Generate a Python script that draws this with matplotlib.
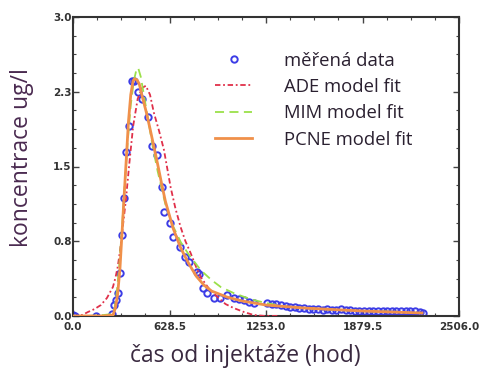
import matplotlib
matplotlib.use("Agg")
import matplotlib.pyplot as plt
from matplotlib.ticker import FixedLocator, MultipleLocator

# measured data
meas_x = [0, 13, 150, 255, 267, 278, 290, 305, 317, 332, 343, 361, 382, 397, 425, 451,
          490, 516, 544, 576, 591, 630, 652, 695, 727, 753, 808, 820, 842, 873, 915,
          956, 1001, 1043, 1075, 1109, 1140, 1173, 1262, 1290, 1320, 1350, 1380, 1410,
          1440, 1470, 1500, 1530, 1560, 1590, 1620, 1650, 1680, 1710, 1740, 1770,
          1800, 1830, 1860, 1890, 1920, 1950, 1980, 2010, 2040, 2070, 2100, 2130,
          2160, 2190, 2220, 2250, 2274]
meas_y = [0.01, 0.0, 0.0, 0.02, 0.11, 0.16, 0.23, 0.43, 0.81, 1.18, 1.65, 1.91, 2.36, 2.36,
          2.25, 2.18, 2.0, 1.71, 1.62, 1.29, 1.04, 0.93, 0.79, 0.69, 0.59, 0.54, 0.44,
          0.42, 0.28, 0.23, 0.18, 0.18, 0.21, 0.18, 0.17, 0.16, 0.14, 0.13, 0.13, 0.12,
          0.12, 0.11, 0.10, 0.09, 0.09, 0.08, 0.08, 0.07, 0.07, 0.07, 0.06, 0.07, 0.06,
          0.06, 0.07, 0.06, 0.06, 0.05, 0.05, 0.05, 0.05, 0.05, 0.05, 0.05, 0.05, 0.05,
          0.05, 0.05, 0.05, 0.05, 0.05, 0.04, 0.03]

# ADE model fit
ade_x = [0, 20, 60, 97, 140, 181, 220, 259, 275, 290, 305, 320, 343, 365, 390, 420, 450,
         473, 500, 525, 560, 590, 634, 665, 699, 730, 764, 800, 829, 880, 939, 990, 1043,
         1110, 1173, 1250, 1330]
ade_y = [0.0, 0.0, 0.01, 0.04, 0.07, 0.11, 0.18, 0.29, 0.38, 0.49, 0.65, 0.85, 1.16,
         1.52, 1.9, 2.18, 2.29, 2.31, 2.22, 2.04, 1.85, 1.67, 1.29, 1.08, 0.89, 0.75,
         0.63, 0.49, 0.39, 0.28, 0.19, 0.12, 0.08, 0.04, 0.01, 0.0, 0.0]

# MIM model fit
mim_x = [0, 100, 200, 255, 270, 285, 300, 317, 335, 355, 375, 395, 410, 423, 440, 460,
         490, 520, 550, 600, 650, 700, 750, 800, 829, 900, 960, 1043, 1150, 1253, 1400,
         1600, 1879, 2124]
mim_y = [0.0, 0.0, 0.01, 0.02, 0.08, 0.25, 0.5, 0.85, 1.3, 1.75, 2.12, 2.36, 2.46, 2.49,
         2.4, 2.22, 1.95, 1.68, 1.45, 1.12, 0.9, 0.74, 0.62, 0.52, 0.46, 0.36, 0.29, 0.23,
         0.17, 0.13, 0.09, 0.07, 0.05, 0.04]

# PCNE model fit
pcne_x = [0, 200, 260, 275, 290, 305, 317, 330, 345, 360, 375, 390, 400, 415, 430, 450,
          475, 500, 525, 550, 575, 600, 650, 700, 750, 800, 850, 900, 1000, 1100, 1253,
          1500, 1879, 2266]
pcne_y = [0.0, 0.0, 0.01, 0.08, 0.22, 0.48, 0.8, 1.15, 1.55, 1.95, 2.22, 2.36, 2.38, 2.37,
          2.33, 2.2, 2.05, 1.88, 1.7, 1.52, 1.33, 1.15, 0.88, 0.68, 0.53, 0.4, 0.31, 0.25,
          0.19, 0.15, 0.11, 0.08, 0.05, 0.03]

xticks = [0.0, 626.5, 1253.0, 1879.5, 2506.0]
xtick_labels = ["0.0", "628.5", "1253.0", "1879.5", "2506.0"]
yticks = [0.0, 0.75, 1.5, 2.25, 3.0]
ytick_labels = ["0.0", "0.8", "1.5", "2.3", "3.0"]

fig = plt.figure(figsize=(4.81, 3.69), dpi=100)
ax = fig.add_axes([73 / 481, 1 - 316 / 369, (459 - 73) / 481, (316 - 17) / 369])

ax.plot(meas_x, meas_y, linestyle="none", marker="o", markersize=4.6,
        markerfacecolor="none", markeredgecolor="#3c3ce6", markeredgewidth=1.4,
        label="měřená data", zorder=2)
ax.plot(ade_x, ade_y, color="#e0304a", linestyle=(0, (3, 1.5, 1, 1.5)), lw=1.3,
        label="ADE model fit", zorder=3)
ax.plot(mim_x, mim_y, color="#9be04a", linestyle=(0, (5, 3)), lw=1.3,
        label="MIM model fit", zorder=4)
ax.plot(pcne_x, pcne_y, color="#f0904a", linestyle="-", lw=2.0,
        label="PCNE model fit", zorder=5)

ax.set_xlim(0, 2506)
ax.set_ylim(0, 3.0)
ax.xaxis.set_major_locator(FixedLocator(xticks))
ax.set_xticklabels(xtick_labels)
ax.yaxis.set_major_locator(FixedLocator(yticks))
ax.set_yticklabels(ytick_labels)
ax.xaxis.set_minor_locator(MultipleLocator(626.5 / 4))
ax.yaxis.set_minor_locator(MultipleLocator(0.1875))
ax.tick_params(which="both", direction="in", top=True, right=True, colors="#444444",
               labelcolor="#333333", labelsize=7.5)
ax.tick_params(which="major", length=4, width=1)
ax.tick_params(which="minor", length=2.5, width=0.8)
ax.tick_params(axis="x", pad=4)
ax.tick_params(axis="y", pad=1)
for lbl in ax.get_xticklabels() + ax.get_yticklabels():
    lbl.set_fontweight("bold")
for s in ax.spines.values():
    s.set_color("#333333")
    s.set_linewidth(1.5)

fig.text(245 / 481, 1 - 356 / 369, "čas od injektáže (hod)", ha="center", va="center",
         fontsize=16.5, color="#3a2a40", family="Open Sans")
fig.text(22 / 481, 1 - 158 / 369, "koncentrace ug/l", ha="center", va="center",
         rotation=90, fontsize=16.5, color="#4a2a50", family="Open Sans")

leg = ax.legend(loc="upper left", bbox_to_anchor=(0.345, 0.915), frameon=False,
                prop={"family": "Open Sans", "size": 13.3}, handlelength=2.0,
                handletextpad=1.7, labelspacing=0.45, borderpad=0)
for t in leg.get_texts():
    t.set_color("#2a2030")

fig.savefig("out.png", dpi=100)
